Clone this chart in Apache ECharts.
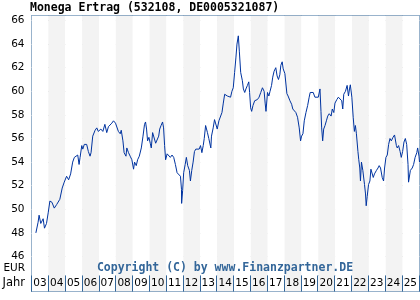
<!DOCTYPE html>
<html>
<head>
<meta charset="utf-8">
<script src="https://cdn.jsdelivr.net/npm/echarts@6/dist/echarts.min.js"></script>
<style>
  html, body { margin: 0; padding: 0; background: #fff; }
  #chart { width: 420px; height: 300px; }
</style>
</head>
<body>
<div id="chart"></div>
<script>
// Jahres-Beschriftung unten
var years = ['03', '04', '05', '06', '07', '08', '09', '10', '11', '12', '13', '14',
  '15', '16', '17', '18', '19', '20', '21', '22', '23', '24', '25']

// Zeitpunkte (Dezimaljahr) und Kurse in EUR
var dates = [
  2003.26, 2003.39, 2003.45, 2003.55, 2003.69, 2003.77, 2003.89, 2003.99,
  2004.09, 2004.21, 2004.35, 2004.49, 2004.68, 2004.82, 2004.94,
  2005.08, 2005.20, 2005.32, 2005.44, 2005.54, 2005.64, 2005.74, 2005.82, 2005.88, 2005.98,
  2006.04, 2006.13, 2006.27, 2006.37, 2006.47, 2006.53, 2006.63, 2006.77, 2006.87, 2006.96,
  2007.11, 2007.23, 2007.35, 2007.46, 2007.56, 2007.66, 2007.76, 2007.86, 2007.98,
  2008.06, 2008.15, 2008.26, 2008.32, 2008.42, 2008.49, 2008.60, 2008.65, 2008.75, 2008.85, 2008.95,
  2009.05, 2009.11, 2009.21, 2009.29, 2009.39, 2009.51, 2009.61, 2009.70, 2009.76, 2009.82, 2009.88, 2009.96,
  2010.04, 2010.10, 2010.18, 2010.28, 2010.36, 2010.44, 2010.54, 2010.60, 2010.68, 2010.77, 2010.83, 2010.89, 2010.95,
  2011.04, 2011.13, 2011.23, 2011.33, 2011.43, 2011.53, 2011.63, 2011.73, 2011.83, 2011.89, 2011.90, 2011.96,
  2012.02, 2012.11, 2012.18, 2012.26, 2012.36, 2012.42, 2012.50, 2012.58, 2012.66, 2012.74, 2012.84, 2012.94,
  2013.02, 2013.10, 2013.18, 2013.24, 2013.32, 2013.38, 2013.43, 2013.51, 2013.57, 2013.63, 2013.67, 2013.77, 2013.85, 2013.93,
  2014.01, 2014.11, 2014.21, 2014.29, 2014.37, 2014.45, 2014.52, 2014.61, 2014.70, 2014.80, 2014.88, 2014.96,
  2015.04, 2015.12, 2015.18, 2015.26, 2015.32, 2015.40, 2015.50, 2015.56, 2015.64, 2015.71, 2015.80, 2015.88, 2015.93, 2015.99,
  2016.05, 2016.13, 2016.23, 2016.31, 2016.39, 2016.49, 2016.59, 2016.69, 2016.79, 2016.85, 2016.90, 2016.99,
  2017.07, 2017.14, 2017.23, 2017.30, 2017.38, 2017.48, 2017.56, 2017.64, 2017.72, 2017.78, 2017.86, 2017.92,
  2018.02, 2018.14, 2018.21, 2018.32, 2018.42, 2018.49, 2018.57, 2018.67, 2018.77, 2018.87, 2018.95,
  2019.01, 2019.09, 2019.17, 2019.27, 2019.37, 2019.46, 2019.52, 2019.61, 2019.70, 2019.80, 2019.90,
  2020.00, 2020.10, 2020.16, 2020.20, 2020.26, 2020.32, 2020.40, 2020.48, 2020.56, 2020.65, 2020.76, 2020.83, 2020.92, 2020.99,
  2021.10, 2021.19, 2021.29, 2021.39, 2021.45, 2021.51, 2021.61, 2021.71, 2021.79, 2021.85, 2021.90, 2021.99,
  2022.07, 2022.14, 2022.20, 2022.26, 2022.35, 2022.40, 2022.46, 2022.50, 2022.56, 2022.64, 2022.74, 2022.80, 2022.84, 2022.90, 2022.98,
  2023.06, 2023.12, 2023.18, 2023.26, 2023.33, 2023.45, 2023.54, 2023.61, 2023.69, 2023.79, 2023.87, 2023.93,
  2024.01, 2024.09, 2024.17, 2024.25, 2024.33, 2024.43, 2024.52, 2024.63, 2024.68, 2024.76, 2024.85, 2024.92,
  2025.00, 2025.08, 2025.16, 2025.24, 2025.32, 2025.35, 2025.46, 2025.57, 2025.65, 2025.74, 2025.84, 2025.89, 2025.97, 2026.00
]
var values = [
  48.0, 48.9, 49.5, 48.8, 49.2, 48.4, 48.8, 49.7,
  50.7, 50.6, 50.1, 50.4, 50.85, 51.8, 52.3,
  52.8, 52.5, 53.0, 54.0, 54.4, 54.4, 54.6, 53.8, 54.4, 55.4,
  55.1, 55.5, 55.5, 54.9, 54.5, 54.8, 56.2, 56.7, 56.9, 56.6,
  56.8, 56.6, 57.2, 56.5, 57.0, 56.9, 57.3, 57.5, 57.3,
  57.4, 56.6, 56.4, 56.7, 55.8, 54.8, 54.5, 55.2, 54.8, 54.5, 54.2,
  53.4, 54.0, 53.7, 54.2, 54.5, 55.2, 56.2, 57.2, 57.4, 56.8, 55.8, 56.1,
  55.6, 55.2, 56.5, 56.6, 55.6, 55.6, 56.2, 56.8, 57.1, 57.4, 56.9, 55.4, 54.2,
  54.7, 54.7, 54.4, 54.6, 54.4, 53.8, 53.1, 53.0, 52.8, 51.7, 50.5, 51.6,
  53.1, 53.8, 54.4, 53.7, 53.3, 52.4, 53.3, 54.0, 54.9, 55.1, 55.2, 55.1,
  55.4, 54.8, 55.4, 56.0, 57.1, 57.2, 56.5, 56.0, 56.0, 55.2, 56.2, 56.9, 57.6, 57.5,
  56.8, 57.5, 57.6, 58.2, 59.0, 59.75, 59.9, 59.6, 59.7, 59.5, 60.0, 60.3,
  61.6, 62.9, 64.0, 64.7, 63.4, 61.6, 60.9, 60.2, 59.9, 60.2, 60.5, 60.8, 59.9, 58.6,
  58.3, 58.8, 59.2, 59.05, 59.3, 59.5, 59.9, 60.3, 60.0, 59.0, 58.3, 59.9,
  59.6, 60.0, 60.5, 61.2, 61.7, 62.0, 61.3, 61.0, 61.4, 62.2, 62.5, 61.9,
  61.5, 59.8, 59.6, 59.2, 58.9, 58.5, 58.6, 58.2, 57.8, 56.9, 55.8,
  56.2, 56.4, 57.5, 58.2, 58.8, 59.5, 59.9, 59.75, 59.9, 59.5, 59.4,
  59.5, 60.2, 58.3, 56.9, 55.8, 56.8, 57.1, 57.5, 57.9, 58.1, 57.9, 58.5, 58.2, 59.0,
  59.3, 59.5, 59.6, 59.2, 58.5, 59.75, 60.0, 60.5, 59.6, 60.2, 60.55, 59.5,
  57.8, 56.6, 57.1, 56.4, 54.9, 54.2, 53.5, 52.4, 54.0, 53.3, 52.1, 51.3, 50.3, 51.1, 52.1,
  52.4, 53.4, 53.3, 52.7, 53.0, 53.3, 53.5, 53.7, 53.5, 52.7, 52.4, 53.5,
  54.4, 54.6, 55.5, 56.0, 55.8, 56.1, 56.3, 55.4, 55.2, 55.4, 54.9, 54.4,
  54.9, 55.7, 56.0, 55.5, 53.8, 52.3, 53.3, 53.5, 53.8, 54.4, 54.8, 55.2, 54.5, 54.0
]

var yMin = 46
var yMax = 66
var yStep = 2

var borderColor = '#336699'
var labelFont = 'DejaVu Sans'
var monoFont = 'DejaVu Sans Mono'

var chart = echarts.init(document.getElementById('chart'), null, { renderer: 'canvas' })

var lineData = dates.map(function (d, i) { return [d, values[i]] })

var option = {
  animation: false,
  backgroundColor: '#ffffff',
  title: {
    text: 'Monega Ertrag (532108, DE0005321087)',
    left: 30,
    top: 2,
    padding: 0,
    textStyle: {
      fontFamily: monoFont,
      fontWeight: 'bold',
      fontSize: 11.5,
      color: '#000000'
    }
  },
  grid: [
    // Rahmen + Jahresstreifen
    { left: 31.5, right: 0.5, top: 15.5, bottom: 8.5, show: true, borderColor: borderColor, borderWidth: 1, backgroundColor: '#ffffff' },
    // Kursbereich
    { left: 31.5, right: 0.5, top: 20.5, bottom: 43.5 },
    // Jahreszeile
    { left: 31.5, right: 0.5, top: 275.5, bottom: 8.5, show: true, borderColor: borderColor, borderWidth: 1, backgroundColor: 'transparent' }
  ],
  xAxis: [
    {
      gridIndex: 0,
      type: 'value',
      min: 2003,
      max: 2026,
      interval: 1,
      axisLine: { show: false },
      axisTick: { show: false },
      axisLabel: { show: false },
      splitLine: { show: false },
      splitArea: { show: true, areaStyle: { color: ['#ffffff', '#f3f3f3'] } }
    },
    {
      gridIndex: 1,
      type: 'value',
      min: 2003,
      max: 2026,
      show: false
    },
    {
      gridIndex: 2,
      type: 'category',
      data: years,
      boundaryGap: true,
      axisLine: { show: false },
      axisTick: { show: false },
      axisLabel: {
        inside: true,
        interval: 0,
        margin: 8,
        verticalAlign: 'middle',
        fontFamily: labelFont,
        fontSize: 10.5,
        color: '#000000'
      },
      splitLine: { show: true, interval: 0, lineStyle: { color: borderColor, width: 1 } }
    }
  ],
  yAxis: [
    { gridIndex: 0, type: 'value', min: 0, max: 1, show: false },
    {
      gridIndex: 1,
      type: 'value',
      min: yMin,
      max: yMax,
      interval: yStep,
      axisLine: { show: false },
      axisTick: { show: false },
      axisLabel: {
        margin: 7,
        fontFamily: labelFont,
        fontSize: 10.5,
        color: '#000000'
      },
      splitLine: { show: true, lineStyle: { color: '#c8c8c8', width: 1, type: [4, 4] } }
    },
    { gridIndex: 2, type: 'value', show: false }
  ],
  series: [
    {
      type: 'line',
      xAxisIndex: 1,
      yAxisIndex: 1,
      data: lineData,
      showSymbol: false,
      symbol: 'none',
      clip: false,
      lineStyle: { color: '#0033a0', width: 1 }
    }
  ],
  graphic: [
    {
      type: 'text',
      x: 225,
      y: 268,
      z: 100,
      style: {
        text: 'Copyright (C) by www.Finanzpartner.DE',
        fill: borderColor,
        font: 'bold 11.5px "' + monoFont + '"',
        align: 'center',
        verticalAlign: 'middle'
      }
    },
    {
      type: 'text',
      x: 25,
      y: 268,
      z: 100,
      style: { text: 'EUR', fill: '#000000', font: '10.5px "' + labelFont + '"', align: 'right', verticalAlign: 'middle' }
    },
    {
      type: 'text',
      x: 25,
      y: 283.5,
      z: 100,
      style: { text: 'Jahr', fill: '#000000', font: '11.5px "' + labelFont + '"', align: 'right', verticalAlign: 'middle' }
    }
  ]
}

chart.setOption(option)
</script>
</body>
</html>
